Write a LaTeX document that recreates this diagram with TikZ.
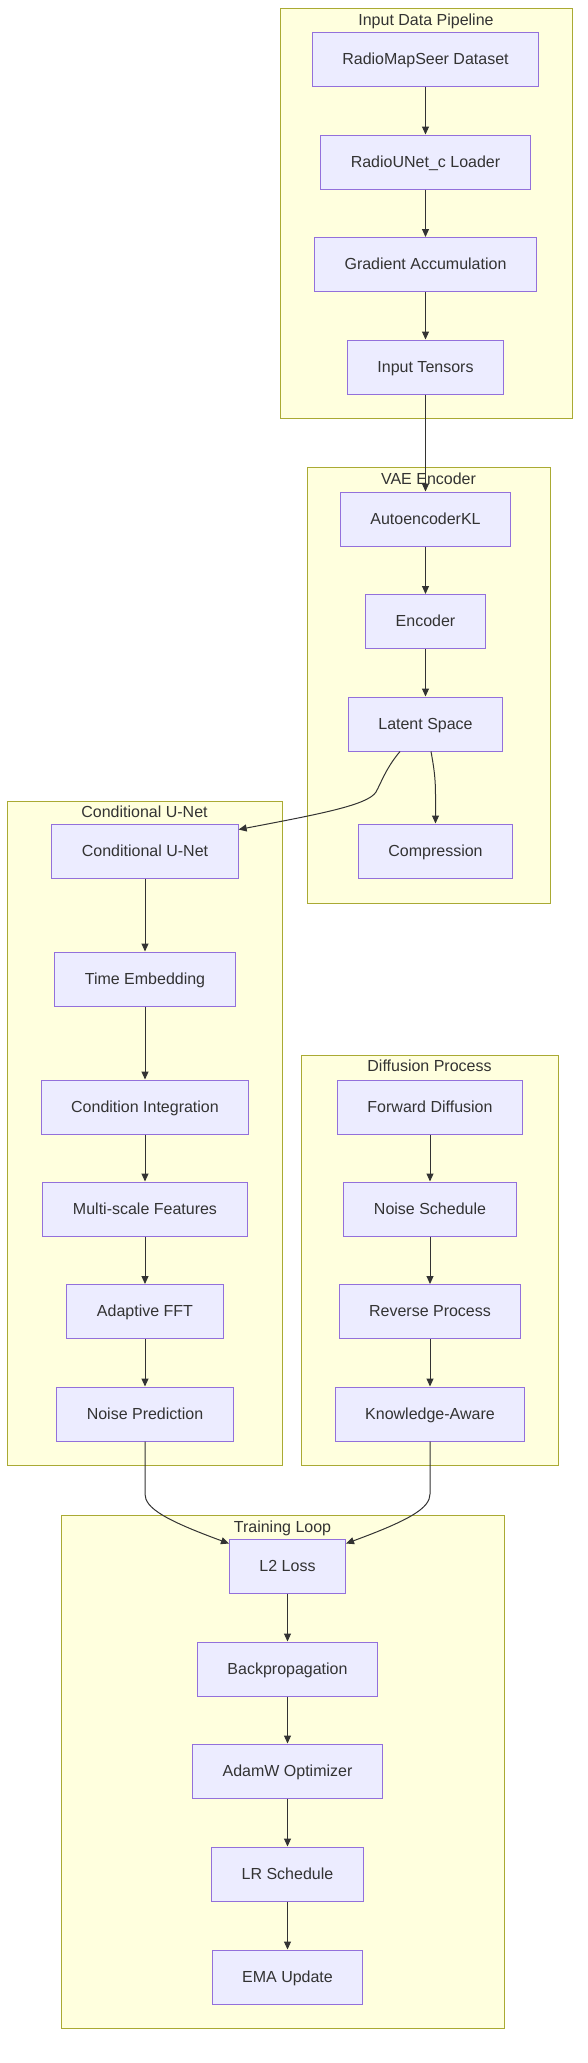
\documentclass[tikz,border=0pt]{standalone}
\usepackage{fontspec}
\setmainfont{Liberation Sans}
\usetikzlibrary{arrows.meta,calc}
\definecolor{nodefill}{HTML}{ECECFF}
\definecolor{nodeline}{HTML}{9370DB}
\definecolor{groupfill}{HTML}{FFFFDE}
\definecolor{groupline}{HTML}{AAAA33}
\definecolor{ink}{HTML}{333333}

\begin{document}
\begin{tikzpicture}[x=0.75pt,y=-0.75pt,
        box/.style={draw=nodeline,fill=nodefill,line width=0.75pt,minimum height=40.5pt,
            inner xsep=22.5pt,inner ysep=0pt,text height=10pt,text depth=2pt,text=ink,
            font=\fontsize{12}{14}\selectfont},
        group/.style={draw=groupline,fill=groupfill,line width=0.75pt},
        grouptitle/.style={inner sep=0pt,text height=10pt,text depth=2pt,text=ink,
            font=\fontsize{12}{14}\selectfont},
        link/.style={draw=ink,line width=0.75pt,-{Triangle[length=6pt,width=5.25pt]}}]
            \useasboundingbox (0,0) rectangle (588,2063);

            % input data pipeline
            \draw[group] (280,8) rectangle (572,418);
            \node[grouptitle] (tin) at (426,20) {Input Data Pipeline};
            \node[box] (ds) at (425.5,59) {RadioMapSeer Dataset};
            \node[box] (ld) at (425.5,162) {RadioUNet\_c Loader};
            \node[box] (ga) at (425.5,264.5) {Gradient Accumulation};
            \node[box] (it) at (425.5,367) {Input Tensors};

            % vae encoder
            \draw[group] (307,467) rectangle (550,903);
            \node[grouptitle] (tvae) at (428.5,479) {VAE Encoder};
            \node[box] (ae) at (425.5,519) {AutoencoderKL};
            \node[box] (enc) at (425.5,621.5) {Encoder};
            \node[box] (lat) at (425.5,724) {Latent Space};
            \node[box] (comp) at (435.5,851) {Compression};

            % conditional u-net
            \draw[group] (7,801) rectangle (282,1465);
            \node[grouptitle] (tunet) at (144.5,812) {Conditional U-Net};
            \node[box] (cu) at (145,851) {Conditional U-Net};
            \node[box] (te) at (145,979) {Time Embedding};
            \node[box] (ci) at (145,1107) {Condition Integration};
            \node[box] (ms) at (145,1209) {Multi-scale Features};
            \node[box] (fft) at (145,1311.5) {Adaptive FFT};
            \node[box] (np) at (145,1414) {Noise Prediction};

            % diffusion process
            \draw[group] (301,1055) rectangle (558,1465);
            \node[grouptitle] (tdiff) at (429.5,1066) {Diffusion Process};
            \node[box] (fd) at (430,1107) {Forward Diffusion};
            \node[box] (nsch) at (430,1209) {Noise Schedule};
            \node[box] (rp) at (430,1311.5) {Reverse Process};
            \node[box] (ka) at (430,1414) {Knowledge-Aware};

            % training loop
            \draw[group] (61,1515) rectangle (504,2028);
            \node[grouptitle] (ttrain) at (282.5,1527) {Training Loop};
            \node[box] (l2) at (287.5,1566) {L2 Loss};
            \node[box] (bp) at (287.5,1669) {Backpropagation};
            \node[box] (adam) at (287.5,1771) {AdamW Optimizer};
            \node[box] (lr) at (287.5,1874) {LR Schedule};
            \node[box] (ema) at (287.5,1977) {EMA Update};

            % links
            \foreach \a/\b in {ds/ld,ld/ga,ga/it,it/ae,ae/enc,enc/lat,cu/te,te/ci,ci/ms,ms/fft,fft/np,
                fd/nsch,nsch/rp,rp/ka,l2/bp,bp/adam,adam/lr,lr/ema}{
                \draw[link] (\a) -- (\b);
            }
            \draw[link] ($(lat.south)+(-25.5,0)$) .. controls (386,768) and (381,783) .. (376,792)
                .. controls (368,805) and (320,814) .. ($(cu.north east)+(0,6)$);
            \draw[link] ($(lat.south)+(5.5,0)$) .. controls (434,768) and (435.5,778) .. (435.5,795) -- (comp.north);
            \draw[link] (np.south) -- (145,1494) .. controls (145,1508) and (165,1520) .. ($(l2.north west)+(0,5)$);
            \draw[link] (ka.south) -- (430,1494) .. controls (430,1508) and (410,1520) .. ($(l2.north east)+(0,5)$);
        \end{tikzpicture}
\end{document}
